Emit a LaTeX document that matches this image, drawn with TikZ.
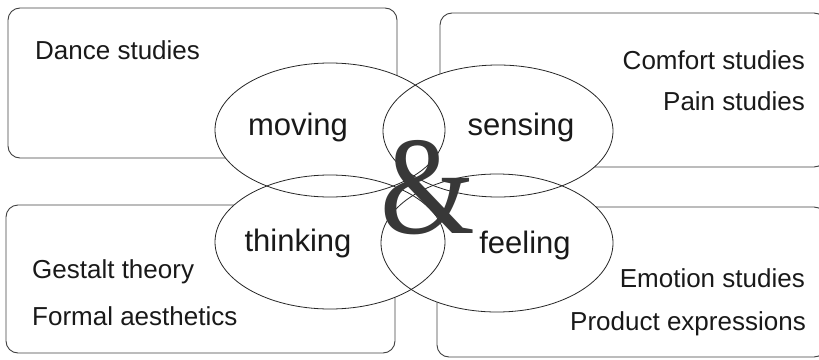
\documentclass[tikz,border=0pt]{standalone}
\usepackage{fontspec}
\setmainfont{Liberation Sans}
\newfontfamily\ampfont{Liberation Serif}
\begin{document}
\begin{tikzpicture}[x=1pt,y=-1pt,
  area/.style={draw=black!75,line width=0.9pt,rounded corners=12pt},
  ring/.style={draw=black!85,line width=0.8pt},
  lab/.style={inner sep=0pt,font=\fontsize{26}{30}\selectfont,text=black!90},
  big/.style={inner sep=0pt,font=\fontsize{31}{36}\selectfont,text=black!90}]
\useasboundingbox (0,0) rectangle (819,359);
% boxes
\draw[area] (8,8) rectangle (397,158);
\draw[area] (440,13) rectangle (826,167);
\draw[area] (6,205) rectangle (395,353);
\draw[area] (437,207) rectangle (826,357);
% white fill of circles
\fill[white] (330,130) ellipse [x radius=115, y radius=67];
\fill[white] (498,131) ellipse [x radius=115, y radius=66];
\fill[white] (330,242) ellipse [x radius=115, y radius=67];
\fill[white] (497,243) ellipse [x radius=116, y radius=69];
% outlines
\draw[ring] (330,130) ellipse [x radius=115, y radius=67];
\draw[ring] (498,131) ellipse [x radius=115, y radius=66];
\draw[ring] (330,242) ellipse [x radius=115, y radius=67];
\draw[ring] (497,243) ellipse [x radius=116, y radius=69];
% circle labels
\node[big] (mov) at (298,127) {moving};
\node[big] (sen) at (521,127) {sensing};
\node[big] (thi) at (298,243) {thinking};
\node[big] (fee) at (525,245) {feeling};
% box labels
\node[lab,anchor=west] (dan) at (35,50) {Dance studies};
\node[lab,anchor=east] (com) at (805,60) {Comfort studies};
\node[lab,anchor=east] (pai) at (805,101) {Pain studies};
\node[lab,anchor=west] (ges) at (32,272) {Gestalt theory};
\node[lab,anchor=west] (for) at (32,316) {Formal aesthetics};
\node[lab,anchor=east] (emo) at (805,278) {Emotion studies};
\node[lab,anchor=east] (pro) at (806,324) {Product expressions};
% ampersand
\node[inner sep=0pt,text=black!78,font=\ampfont\fontsize{140}{140}\selectfont,xscale=0.87] (amp) at (428,188) {\&};
\end{tikzpicture}
\end{document}
